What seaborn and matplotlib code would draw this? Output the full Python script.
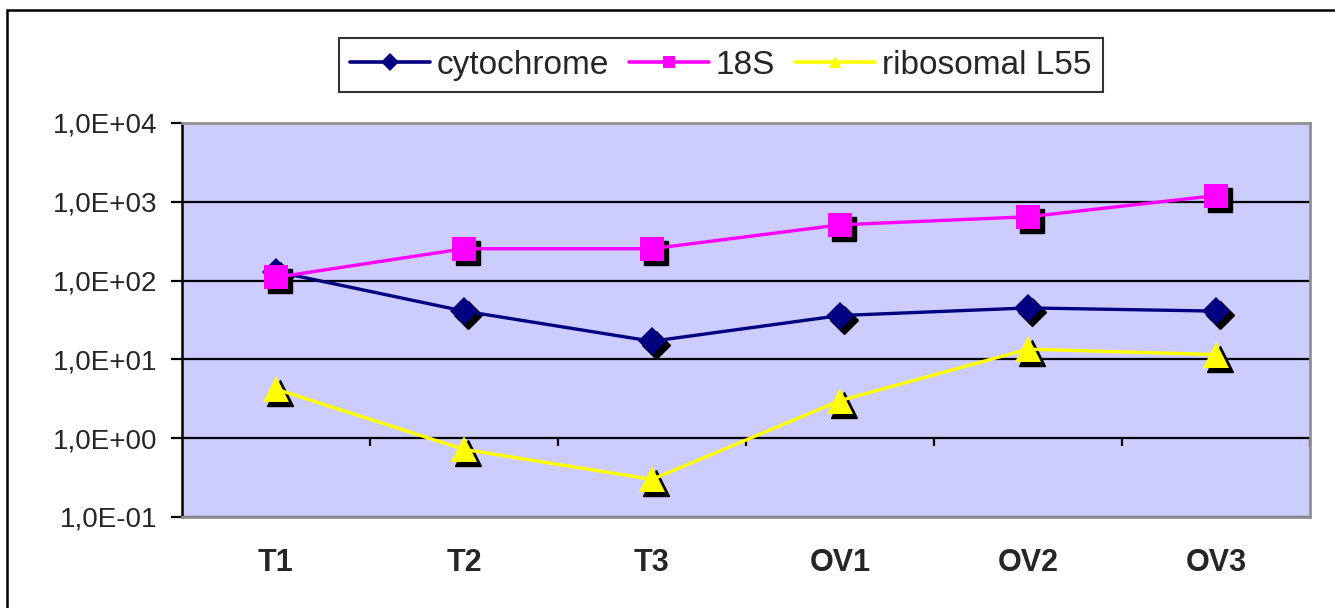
import matplotlib
matplotlib.use("Agg")
import matplotlib.pyplot as plt
import matplotlib.transforms as mtransforms
from matplotlib.patches import Rectangle
from matplotlib.ticker import FixedLocator, FuncFormatter
import pandas as pd
import seaborn as sns

# data (log scale)
samples = ["T1", "T2", "T3", "OV1", "OV2", "OV3"]
cytochrome = [130, 41, 17, 36, 45, 41]
rrna_18s = [110, 254, 254, 510, 646, 1200]
ribosomal_l55 = [4.2, 0.72, 0.30, 3.0, 13.5, 11.5]

series_names = ["cytochrome", "18S", "ribosomal L55"]
series_colors = ["#000080", "#FF00FF", "#FFFF00"]
series_markers = ["D", "s", "^"]
marker_sizes = [14, 17, 19]

sns.set_theme(style="white")
plt.rcParams["font.family"] = ["Liberation Sans", "DejaVu Sans"]

df = pd.DataFrame({
    "sample": samples * 3,
    "value": cytochrome + rrna_18s + ribosomal_l55,
    "gene": [n for n in series_names for _ in samples],
})

fig = plt.figure(figsize=(13.35, 6.08), dpi=100)
ax = fig.add_axes([0.1363, 0.1497, 0.845, 0.6480])
ax.set_facecolor("#CCCCFF")

xpos = list(range(len(samples)))
shadow = mtransforms.offset_copy(ax.transData, fig=fig, x=4, y=-4, units="dots")

# black drop shadows behind the markers
for name, mk, ms in zip(series_names, series_markers, marker_sizes):
    vals = df.loc[df["gene"] == name, "value"].values
    ax.plot(xpos, vals, linestyle="none", marker=mk, markersize=ms,
            color="black", transform=shadow, zorder=3)

sns.lineplot(data=df, x="sample", y="value", hue="gene", style="gene",
             palette=series_colors, markers=series_markers, dashes=False,
             linewidth=2.4, markersize=14, markeredgewidth=0, ax=ax,
             legend=False, zorder=4)
for line, ms in zip(ax.get_lines()[len(series_names):], marker_sizes):
    line.set_markersize(ms)

ax.set_yscale("log")
ax.set_ylim(0.1, 10000)
ax.set_xlim(-0.5, len(samples) - 0.5)

decades = [0.1, 1, 10, 100, 1000, 10000]
ax.yaxis.set_major_locator(FixedLocator(decades))
ax.yaxis.set_minor_locator(FixedLocator([]))
ax.yaxis.set_major_formatter(FuncFormatter(lambda v, p: f"{v:.1E}".replace(".", ",")))
ax.grid(axis="y", which="major", color="black", linewidth=1.6, zorder=1)
ax.set_axisbelow(True)

# category axis crosses at 1 with ticks between categories
ax.vlines([i + 0.5 for i in range(len(samples))], 10 ** -0.1, 1,
          color="black", linewidth=1.6, zorder=2)

ax.tick_params(axis="y", which="major", direction="out", length=8, width=1.6,
               color="black", labelsize=20, pad=10, left=True)
ax.tick_params(axis="x", length=0, labelsize=22, pad=22)
for lab in ax.get_xticklabels():
    lab.set_fontweight("bold")

ax.spines["left"].set_color("black")
ax.spines["left"].set_linewidth(1.8)
for side in ["top", "right", "bottom"]:
    ax.spines[side].set_color("#909090")
    ax.spines[side].set_linewidth(2)

ax.set_xlabel("")
ax.set_ylabel("")

# legend above the plot
handles = [plt.Line2D([], [], color=c, marker=m, markersize=9, linewidth=2.6,
                      markeredgewidth=0)
           for c, m in zip(series_colors, series_markers)]
leg = fig.legend(handles, series_names, loc="center", bbox_to_anchor=(0.540, 0.893),
                 ncol=3, frameon=True, fancybox=False, edgecolor="black",
                 handlelength=2.4, handletextpad=0.2, columnspacing=0.6,
                 borderpad=0.35, prop={"size": 24})
leg.get_frame().set_linewidth(1.5)

# outer chart frame (open to the right and bottom)
fig.patches.append(Rectangle((7 / 1335, -0.1), 1.2, 1.1 - 10 / 608,
                             transform=fig.transFigure, fill=False,
                             edgecolor="black", linewidth=1.8))

fig.savefig("out.png", dpi=100)
